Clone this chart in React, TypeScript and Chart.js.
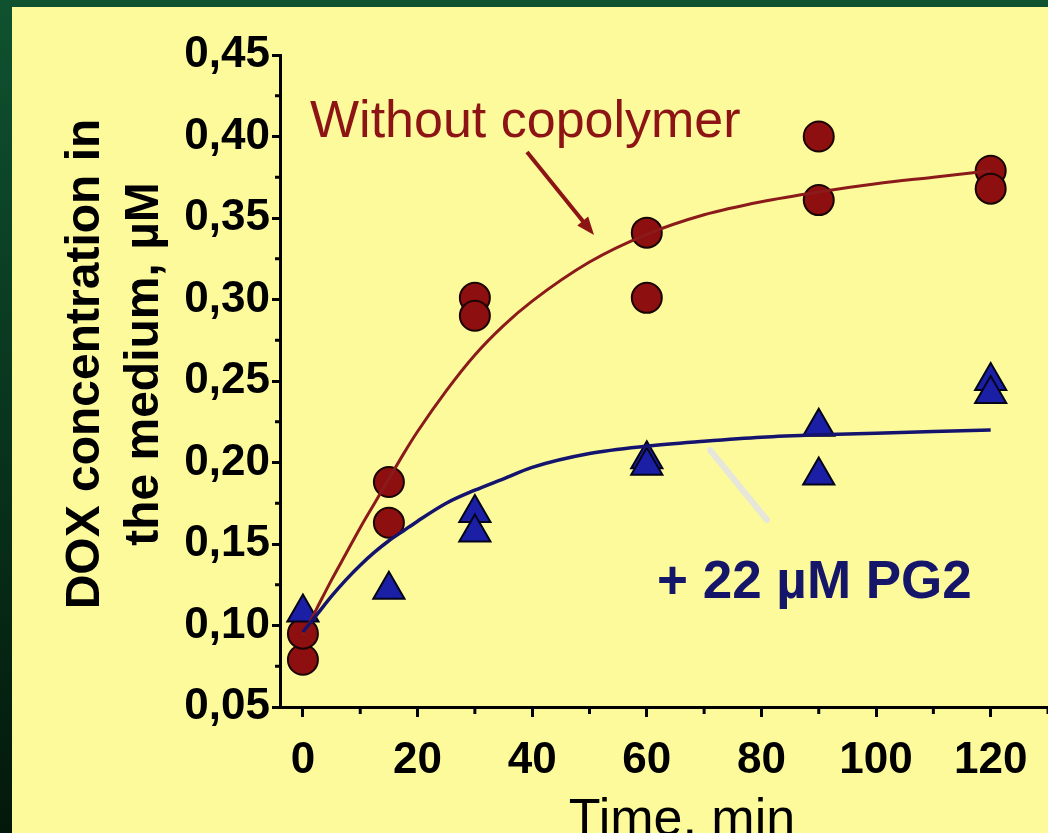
import React, { useEffect, useRef } from 'react';
import { Chart, registerables } from 'chart.js';

Chart.register(...registerables);

// Measured data
const timeWithout = [0, 0, 15, 15, 30, 30, 60, 60, 90, 90, 120, 120];
const concWithout = [0.079, 0.095, 0.188, 0.163, 0.301, 0.29, 0.341, 0.301, 0.4, 0.361, 0.379, 0.368];
const timePG2 = [0, 15, 30, 30, 60, 60, 90, 90, 120, 120];
const concPG2 = [0.108, 0.122, 0.169, 0.157, 0.202, 0.198, 0.222, 0.192, 0.25, 0.242];

// Fitted curves
const fitTimes = [0, 2.5, 5, 7.5, 10, 12.5, 15, 17.5, 20, 25, 30, 35, 40, 50, 60, 70, 80, 90, 100, 110, 120];
const fitWithout = [0.094, 0.111, 0.128, 0.144, 0.16, 0.175, 0.19, 0.205, 0.219, 0.244, 0.266, 0.284, 0.299, 0.323, 0.34, 0.352, 0.36, 0.366, 0.371, 0.375, 0.379];
const fitPG2 = [0.096, 0.107, 0.118, 0.128, 0.137, 0.145, 0.152, 0.158, 0.164, 0.175, 0.183, 0.19, 0.197, 0.2055, 0.21, 0.213, 0.2155, 0.217, 0.218, 0.219, 0.22];

// Axis ticks
const xMajorTicks = [0, 20, 40, 60, 80, 100, 120];
const xMinorTicks = [10, 30, 50, 70, 90, 110, 130];
const yMajorTicks = [0.05, 0.1, 0.15, 0.2, 0.25, 0.3, 0.35, 0.4, 0.45];
const yMinorTicks = [0.075, 0.125, 0.175, 0.225, 0.275, 0.325, 0.375, 0.425];

const labelWithout = 'Without copolymer';
const labelPG2 = '+ 22 µM PG2';
const yTitleLines = ['DOX concentration in', 'the medium, µM'];
const xTitle = 'Time, min';

const FONT = "'Liberation Sans', Arial, sans-serif";
const RED = '#8c1414';
const NAVY = '#15156a';

const zip = (xs: number[], ys: number[]) => xs.map((x, i) => ({ x, y: ys[i] }));

const decorPlugin = {
  id: 'decor',
  beforeDatasetsDraw(chart: any) {
    const ctx = chart.ctx;
    ctx.save();
    ctx.strokeStyle = '#e6e6da';
    ctx.lineWidth = 6;
    ctx.lineCap = 'round';
    ctx.beginPath();
    ctx.moveTo(698, 443);
    ctx.lineTo(755, 513);
    ctx.stroke();
    ctx.restore();
  },
  afterDraw(chart: any) {
    const ctx = chart.ctx;
    const xs = chart.scales.x;
    const ys = chart.scales.y;
    ctx.save();
    ctx.strokeStyle = '#000';
    ctx.lineWidth = 3;
    xMinorTicks.forEach((v) => {
      const px = xs.getPixelForValue(v);
      ctx.beginPath();
      ctx.moveTo(px, ys.bottom);
      ctx.lineTo(px, ys.bottom + 7);
      ctx.stroke();
    });
    yMinorTicks.forEach((v) => {
      const py = ys.getPixelForValue(v);
      ctx.beginPath();
      ctx.moveTo(xs.left, py);
      ctx.lineTo(xs.left - 5, py);
      ctx.stroke();
    });

    ctx.fillStyle = '#000';
    ctx.font = `bold 48px ${FONT}`;
    ctx.textAlign = 'center';
    ctx.textBaseline = 'alphabetic';
    ctx.save();
    ctx.translate(87, 357);
    ctx.rotate(-Math.PI / 2);
    ctx.fillText(yTitleLines[0], 0, 0);
    ctx.fillText(yTitleLines[1], 0, 59);
    ctx.restore();

    ctx.font = `52px ${FONT}`;
    ctx.textAlign = 'center';
    ctx.fillText(xTitle, 670, 828);

    ctx.fillStyle = RED;
    ctx.font = `52px ${FONT}`;
    ctx.textAlign = 'left';
    ctx.fillText(labelWithout, 298, 130);

    const x0 = 515, y0 = 145, x1 = 582, y1 = 228;
    ctx.strokeStyle = RED;
    ctx.lineWidth = 4;
    const ang = Math.atan2(y1 - y0, x1 - x0);
    const hl = 18;
    ctx.beginPath();
    ctx.moveTo(x0, y0);
    ctx.lineTo(x1 - Math.cos(ang) * (hl - 4), y1 - Math.sin(ang) * (hl - 4));
    ctx.stroke();
    ctx.fillStyle = RED;
    ctx.beginPath();
    ctx.moveTo(x1, y1);
    ctx.lineTo(x1 - hl * Math.cos(ang) + 7 * Math.sin(ang), y1 - hl * Math.sin(ang) - 7 * Math.cos(ang));
    ctx.lineTo(x1 - hl * Math.cos(ang) - 7 * Math.sin(ang), y1 - hl * Math.sin(ang) + 7 * Math.cos(ang));
    ctx.closePath();
    ctx.fill();

    ctx.fillStyle = NAVY;
    ctx.font = `bold 53px ${FONT}`;
    ctx.fillText(labelPG2, 645, 591);
    ctx.restore();
  },
};

export default function App() {
  const ref = useRef<HTMLCanvasElement | null>(null);
  useEffect(() => {
    if (!ref.current) return;
    const chart = new Chart(ref.current, {
      type: 'scatter',
      data: {
        datasets: [
          {
            label: 'Without copolymer',
            data: zip(timeWithout, concWithout),
            pointStyle: 'circle',
            pointRadius: 15,
            pointBackgroundColor: '#8e0f10',
            pointBorderColor: '#1a0505',
            pointBorderWidth: 2,
            order: 3,
          },
          {
            label: '+ 22 µM PG2',
            data: zip(timePG2, concPG2),
            pointStyle: 'triangle',
            pointRadius: 18,
            pointBackgroundColor: '#1b1fa6',
            pointBorderColor: '#05051a',
            pointBorderWidth: 2,
            order: 2,
          },
          {
            label: 'fit without',
            data: zip(fitTimes, fitWithout),
            showLine: true,
            pointRadius: 0,
            borderColor: '#8b1a1a',
            borderWidth: 3,
            cubicInterpolationMode: 'monotone',
            order: 1,
          },
          {
            label: 'fit PG2',
            data: zip(fitTimes, fitPG2),
            showLine: true,
            pointRadius: 0,
            borderColor: '#14146e',
            borderWidth: 3.5,
            cubicInterpolationMode: 'monotone',
            order: 0,
          },
        ],
      } as any,
      options: {
        animation: false,
        responsive: false,
        devicePixelRatio: 1,
        layout: { autoPadding: false, padding: { top: 48, right: 0, left: 0, bottom: 0 } },
        plugins: { legend: { display: false }, tooltip: { enabled: false }, title: { display: false } },
        scales: {
          x: {
            type: 'linear',
            min: -4,
            max: 130,
            afterFit: (s: any) => { s.height = 126; s.paddingLeft = 0; s.paddingRight = 0; },
            afterBuildTicks: (s: any) => { s.ticks = xMajorTicks.map((v) => ({ value: v })); },
            ticks: {
              includeBounds: false,
              stepSize: 20,
              color: '#000',
              padding: 17,
              font: { family: FONT, size: 44, weight: 'bold' },
              callback: (v: any) => String(v),
            },
            grid: { drawOnChartArea: false, drawTicks: true, tickLength: 10, tickColor: '#000', tickWidth: 3 },
            border: { display: true, color: '#000', width: 3 },
          },
          y: {
            type: 'linear',
            min: 0.05,
            max: 0.45,
            afterFit: (s: any) => { s.width = 268; },
            afterBuildTicks: (s: any) => { s.ticks = yMajorTicks.map((v) => ({ value: v })); },
            ticks: {
              color: '#000',
              padding: 2,
              font: { family: FONT, size: 44, weight: 'bold' },
              callback: (v: any) => Number(v).toFixed(2).replace('.', ','),
            },
            grid: { drawOnChartArea: false, drawTicks: true, tickLength: 8, tickColor: '#000', tickWidth: 3 },
            border: { display: true, color: '#000', width: 3 },
          },
        },
      } as any,
      plugins: [decorPlugin],
    });
    return () => chart.destroy();
  }, []);

  return (
    <div style={{ position: 'fixed', left: 0, top: 0, width: 1048, height: 833, overflow: 'hidden', background: 'linear-gradient(#0f5230, #03180b)' }}>
      <div style={{ position: 'absolute', left: 12, top: 7, width: 1036, height: 826, background: '#fdfa9c' }}>
        <canvas ref={ref} width={1036} height={826} style={{ display: 'block', width: 1036, height: 826 }} />
      </div>
    </div>
  );
}
